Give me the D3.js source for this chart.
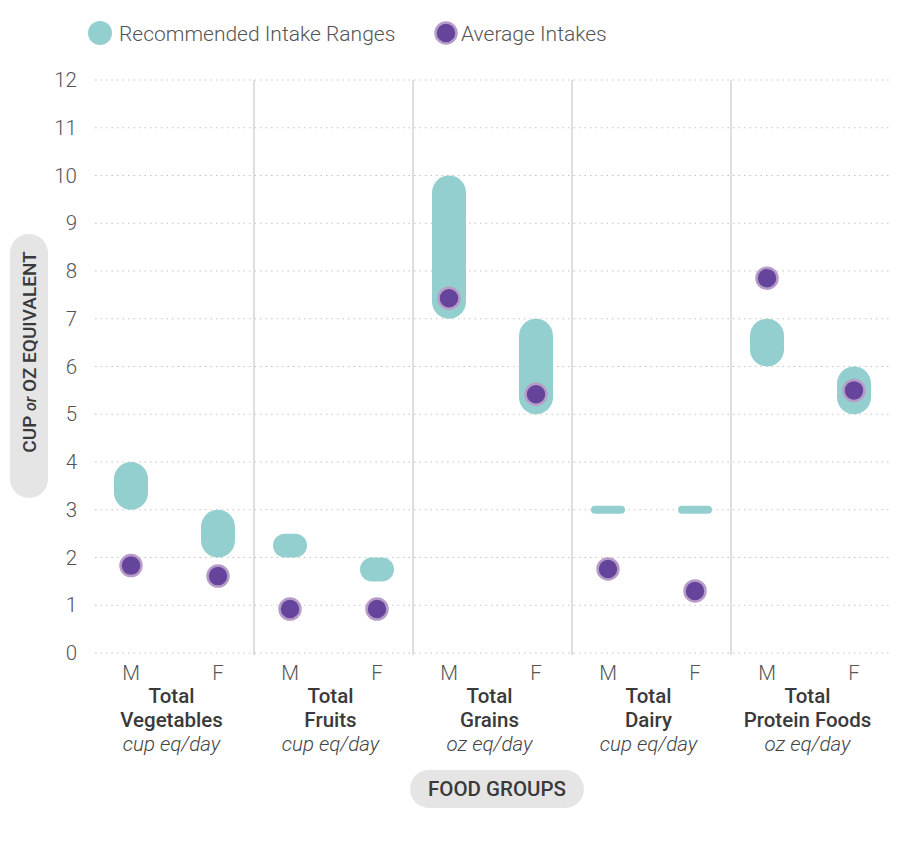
<!DOCTYPE html>
<meta charset="utf-8">
<style>
  body { margin: 0; background: #fff; font-family: Roboto, sans-serif; }
  .tick888 { font-weight: 300; fill: #555; font-size: 20.5px; }
  .grid888 { stroke: #c4c4c4; stroke-width: 1.2; stroke-dasharray: 1.5 4; }
  .sep888 { stroke: #d4d4d4; stroke-width: 1.5; }
</style>
<body>
<div id="chart888"></div>
<script src="https://d3js.org/d3.v7.js"></script>
<script>
  var groups888 = ["Total Vegetables", "Total Fruits", "Total Grains", "Total Dairy", "Total Protein Foods"];
  var groupLines888 = [["Total", "Vegetables"], ["Total", "Fruits"], ["Total", "Grains"], ["Total", "Dairy"], ["Total", "Protein Foods"]];
  var units888 = ["cup eq/day", "cup eq/day", "oz eq/day", "cup eq/day", "oz eq/day"];
  var sexes888 = ["M", "F"];
  // recommended ranges [low, high], M then F
  var rangeM888 = [[3, 4], [2, 2.5], [7, 10], [3, 3], [6, 7]];
  var rangeF888 = [[2, 3], [1.5, 2], [5, 7], [3, 3], [5, 6]];
  // average intakes
  var avgM888 = [1.83, 0.92, 7.43, 1.76, 7.85];
  var avgF888 = [1.61, 0.92, 5.42, 1.3, 5.5];
  var yTicks888 = d3.range(0, 13);

  var width888 = 914, height888 = 867;
  var left888 = 95, right888 = 890, top888 = 80, bottom888 = 653;

  var svg888 = d3.select("#chart888").append("svg")
    .attr("width", width888).attr("height", height888);

  var y888 = d3.scaleLinear().domain([0, 12]).range([bottom888, top888]);
  var x0888 = d3.scaleBand().domain(groups888).range([left888, right888]);
  var x1888 = d3.scalePoint().domain(sexes888).range([36, 123]);

  // grid
  svg888.selectAll("line.grid888").data(yTicks888).enter().append("line")
    .attr("class", "grid888")
    .attr("x1", left888).attr("x2", right888)
    .attr("y1", function(d) { return y888(d); }).attr("y2", function(d) { return y888(d); });

  svg888.selectAll("text.tick888").data(yTicks888).enter().append("text")
    .attr("class", "tick888")
    .attr("x", 77).attr("y", function(d) { return y888(d); })
    .attr("dy", "0.35em").attr("text-anchor", "end")
    .text(function(d) { return d; });

  // separators
  svg888.selectAll("line.sep888").data(groups888.slice(1)).enter().append("line")
    .attr("class", "sep888")
    .attr("x1", function(d) { return x0888(d); }).attr("x2", function(d) { return x0888(d); })
    .attr("y1", top888).attr("y2", bottom888 + 2);

  var rows888 = [];
  groups888.forEach(function(g, i) {
    rows888.push({group: g, sex: "M", range: rangeM888[i], avg: avgM888[i]});
    rows888.push({group: g, sex: "F", range: rangeF888[i], avg: avgF888[i]});
  });
  function cx888(d) { return x0888(d.group) + x1888(d.sex); }

  var barW888 = 34;
  svg888.selectAll("rect.range888").data(rows888).enter().append("rect")
    .attr("class", "range888")
    .each(function(d) {
      var yTop = y888(d.range[1]), yBot = y888(d.range[0]);
      var h = Math.max(yBot - yTop, 8);
      var yc = (yTop + yBot) / 2;
      d3.select(this)
        .attr("x", cx888(d) - barW888 / 2).attr("width", barW888)
        .attr("y", yc - h / 2).attr("height", h)
        .attr("rx", Math.min(barW888 / 2, h / 2)).attr("ry", Math.min(barW888 / 2, h / 2));
    })
    .attr("fill", "#94cfcf");

  svg888.selectAll("circle.avg888").data(rows888).enter().append("circle")
    .attr("class", "avg888")
    .attr("cx", cx888).attr("cy", function(d) { return y888(d.avg); })
    .attr("r", 10.5)
    .attr("fill", "#65459b")
    .attr("stroke", "#b89cc8").attr("stroke-width", 2.5);

  // x labels
  svg888.selectAll("text.sex888").data(rows888).enter().append("text")
    .attr("class", "tick888")
    .attr("x", cx888).attr("y", 680)
    .attr("text-anchor", "middle")
    .text(function(d) { return d.sex; });

  var lab888 = svg888.selectAll("g.lab888").data(groups888).enter().append("g")
    .attr("transform", function(d) { return "translate(" + (x0888(d) + x0888.bandwidth() / 2 - 3) + ",0)"; });
  lab888.each(function(d, i) {
    var g = d3.select(this);
    groupLines888[i].forEach(function(t, j) {
      g.append("text").attr("y", 703 + j * 24).attr("text-anchor", "middle")
        .attr("font-size", 20.5).attr("font-weight", 500).attr("fill", "#3a3a3a").text(t);
    });
    g.append("text").attr("y", 751).attr("text-anchor", "middle")
      .attr("font-size", 20.5).attr("font-weight", 300).attr("font-style", "italic").attr("fill", "#444")
      .text(units888[i]);
  });

  // x axis title pill
  var xt888 = svg888.append("g").attr("transform", "translate(497,789)");
  xt888.append("rect").attr("x", -87).attr("y", -19).attr("width", 174).attr("height", 38)
    .attr("rx", 19).attr("fill", "#e5e5e6");
  xt888.append("text").attr("text-anchor", "middle").attr("dy", "0.36em")
    .attr("font-size", 20.5).attr("font-weight", 500).attr("fill", "#3a3a3a").text("FOOD GROUPS");

  // y axis title pill
  var yt888 = svg888.append("g").attr("transform", "translate(29,366) rotate(-90)");
  yt888.append("rect").attr("x", -132).attr("y", -19).attr("width", 264).attr("height", 38)
    .attr("rx", 19).attr("fill", "#e5e5e6");
  var ytx888 = yt888.append("text").attr("x", 14).attr("text-anchor", "middle").attr("dy", "0.36em")
    .attr("font-size", 19).attr("font-weight", 500).attr("fill", "#3a3a3a");
  ytx888.append("tspan").text("CUP ");
  ytx888.append("tspan").attr("font-style", "italic").attr("font-size", 16).text("or");
  ytx888.append("tspan").text("  OZ EQUIVALENT");

  // legend
  var leg888 = svg888.append("g");
  leg888.append("circle").attr("cx", 100).attr("cy", 33).attr("r", 12).attr("fill", "#94cfcf");
  leg888.append("text").attr("x", 119).attr("y", 33).attr("dy", "0.36em")
    .attr("font-size", 21).attr("font-weight", 300).attr("fill", "#555").text("Recommended Intake Ranges");
  leg888.append("circle").attr("cx", 446).attr("cy", 33).attr("r", 10.5)
    .attr("fill", "#65459b").attr("stroke", "#b89cc8").attr("stroke-width", 2.5);
  leg888.append("text").attr("x", 461).attr("y", 33).attr("dy", "0.36em")
    .attr("font-size", 21).attr("font-weight", 300).attr("fill", "#555").text("Average Intakes");
</script>
</body>
